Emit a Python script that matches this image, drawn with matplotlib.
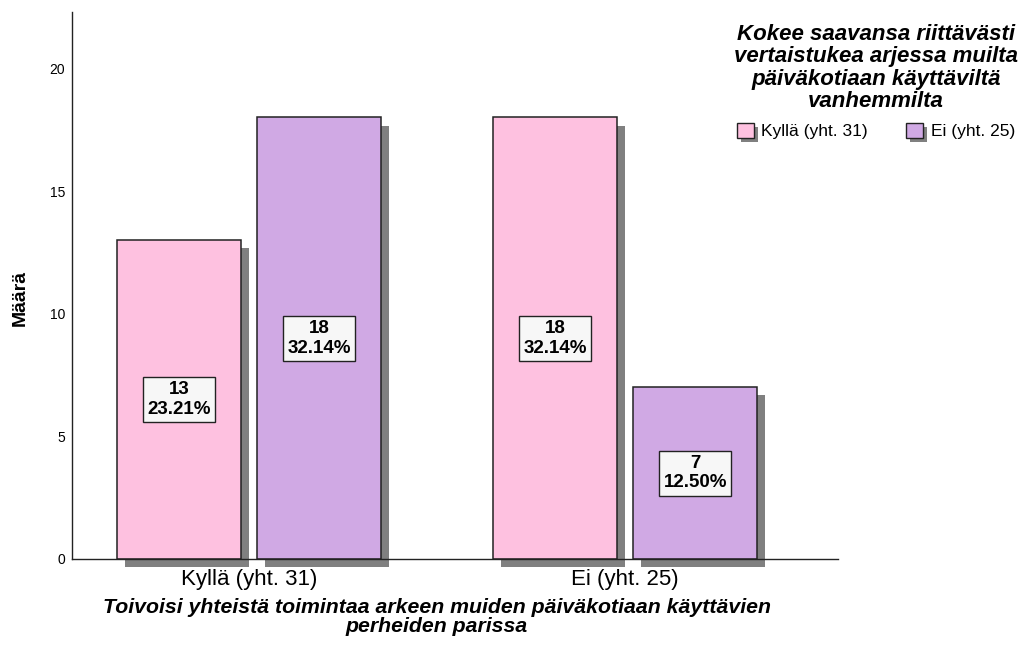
import matplotlib
matplotlib.use("Agg")
import matplotlib.pyplot as plt
import matplotlib.patheffects as pe
from matplotlib.patches import Patch
import numpy as np

plt.rcParams['font.family'] = ['Liberation Sans', 'DejaVu Sans']

# data
groups = ['Kyllä (yht. 31)', 'Ei (yht. 25)']
series = ['Kyllä (yht. 31)', 'Ei (yht. 25)']
counts = {'Kyllä (yht. 31)': [13, 18],   # pink series per group
          'Ei (yht. 25)': [18, 7]}       # purple series per group
percents = {'Kyllä (yht. 31)': ['23.21%', '32.14%'],
            'Ei (yht. 25)': ['32.14%', '12.50%']}
colors = ['#FEC1E0', '#D0A9E4']

legend_title = ('Kokee saavansa riittävästi\nvertaistukea arjessa muilta\n'
                'päiväkotiaan käyttäviltä\nvanhemmilta')
xlabel = ('Toivoisi yhteistä toimintaa arkeen muiden päiväkotiaan käyttävien\n'
          'perheiden parissa')

fig = plt.figure(figsize=(10.19, 6.52), dpi=100)
ax = fig.add_axes([72/1019, 93/652, 766/1019, 547/652])

x = np.arange(len(groups))
w = 0.33
gap = 0.0426
offs = [-(w + gap)/2, (w + gap)/2]

shadow = [pe.SimplePatchShadow(offset=(5.4, -5.8), shadow_rgbFace='#808080', alpha=1.0),
          pe.Normal()]

for i, s in enumerate(series):
    vals = counts[s]
    bars = ax.bar(x + offs[i], vals, width=w, color=colors[i], edgecolor='#222222',
                  linewidth=1.1, zorder=2, clip_on=False)
    for b in bars:
        b.set_path_effects(shadow)
    for j, v in enumerate(vals):
        ax.text(x[j] + offs[i], v/2, f'{v}\n{percents[s][j]}', ha='center', va='center',
                fontsize=13.5, fontweight='bold', linespacing=1.2, zorder=4,
                bbox=dict(boxstyle='square,pad=0.22', fc='#F7F7F7', ec='#222222', lw=1.0))

ax.set_xlim(-0.471, 1.566)
ax.set_ylim(0, 22.3)
ax.set_yticks([0, 5, 10, 15, 20])
ax.set_xticks(x)
ax.set_xticklabels(groups, fontsize=16)
ax.tick_params(axis='y', length=0, labelsize=10, pad=5)
ax.tick_params(axis='x', length=0, pad=7)
ax.spines['top'].set_visible(False)
ax.spines['right'].set_visible(False)
for sp in ['left', 'bottom']:
    ax.spines[sp].set_color('#222222')
    ax.spines[sp].set_linewidth(1.0)
ax.set_ylabel('Määrä', fontsize=14, fontweight='bold')
ax.yaxis.set_label_coords(-0.057, 0.477)

fig.text(437/1019, 1 - 617/652, xlabel, ha='center', va='center', fontsize=15.3,
         fontweight='bold', fontstyle='italic', linespacing=0.95)

# legend
fig.text(876/1019, 1 - 68/652, legend_title, ha='center', va='center', fontsize=16,
         fontweight='bold', fontstyle='italic', linespacing=1.1)
leg_shadow = [pe.SimplePatchShadow(offset=(3, -3), shadow_rgbFace='#808080', alpha=1.0),
              pe.Normal()]
handles = []
for i, s in enumerate(series):
    h = Patch(facecolor=colors[i], edgecolor='#222222', linewidth=1.0, label=s)
    h.set_path_effects(leg_shadow)
    handles.append(h)
fig.legend(handles=handles, loc='center', bbox_to_anchor=(876/1019, 1 - 131/652),
           ncol=2, frameon=False, fontsize=12.5, handlelength=0.95, handleheight=0.95,
           handletextpad=0.45, columnspacing=2.2, borderpad=0, borderaxespad=0)

fig.savefig('out.png', dpi=100)
